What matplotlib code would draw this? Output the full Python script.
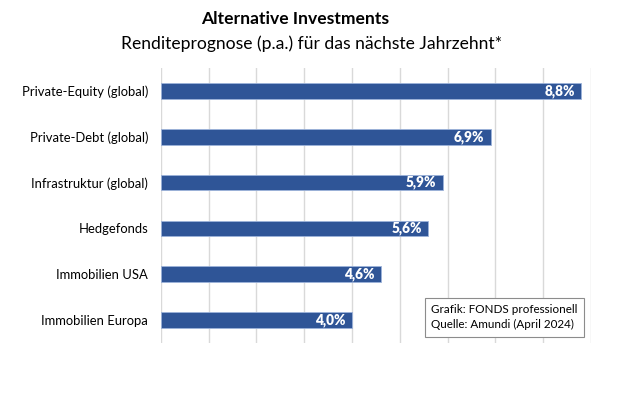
import matplotlib.pyplot as plt

categories = ['Private-Equity (global)', 'Private-Debt (global)', 'Infrastruktur (global)',
              'Hedgefonds', 'Immobilien USA', 'Immobilien Europa']
values = [8.8, 6.9, 5.9, 5.6, 4.6, 4.0]
value_labels = ['8,8%', '6,9%', '5,9%', '5,6%', '4,6%', '4,0%']

plt.rcParams['font.family'] = ['Lato', 'DejaVu Sans']

fig = plt.figure(figsize=(6.2, 4.13), dpi=100)
ax = fig.add_axes([0.2592, 0.1695, 0.6940, 0.6659])

ypos = list(range(len(categories)))[::-1]
ax.barh(ypos, values, height=0.34, color='#2F5597', edgecolor='#9DB3DA', linewidth=0.6, zorder=3)

for y, v, lab in zip(ypos, values, value_labels):
    ax.text(v - 0.13, y, lab, color='white', fontweight='heavy', fontsize=9.8,
            ha='right', va='center', zorder=4)

ax.set_xlim(0, 9)
ax.set_ylim(-0.5, 5.5)
ax.set_xticks(range(10))
ax.set_xticklabels([])
ax.set_yticks(ypos)
ax.set_yticklabels(categories, fontsize=9.4)
ax.tick_params(length=0, pad=9)
ax.grid(axis='x', color='#D9D9D9', linewidth=1, zorder=0)
for s in ax.spines.values():
    s.set_visible(False)

fig.text(0.476, 0.955, 'Alternative Investments', ha='center', va='center',
         fontsize=12.6, fontweight='bold')
fig.text(0.502, 0.895, 'Renditeprognose (p.a.) für das nächste Jahrzehnt*', ha='center',
         va='center', fontsize=12.6)

ax.text(0.628, 0.094, 'Grafik: FONDS professionell\nQuelle: Amundi (April 2024)',
        transform=ax.transAxes, ha='left', va='center', fontsize=8.4, linespacing=1.45,
        bbox=dict(boxstyle='square,pad=0.55', facecolor='white', edgecolor='#8C8C8C', linewidth=0.8),
        zorder=5)

fig.savefig('out.png', dpi=100)
